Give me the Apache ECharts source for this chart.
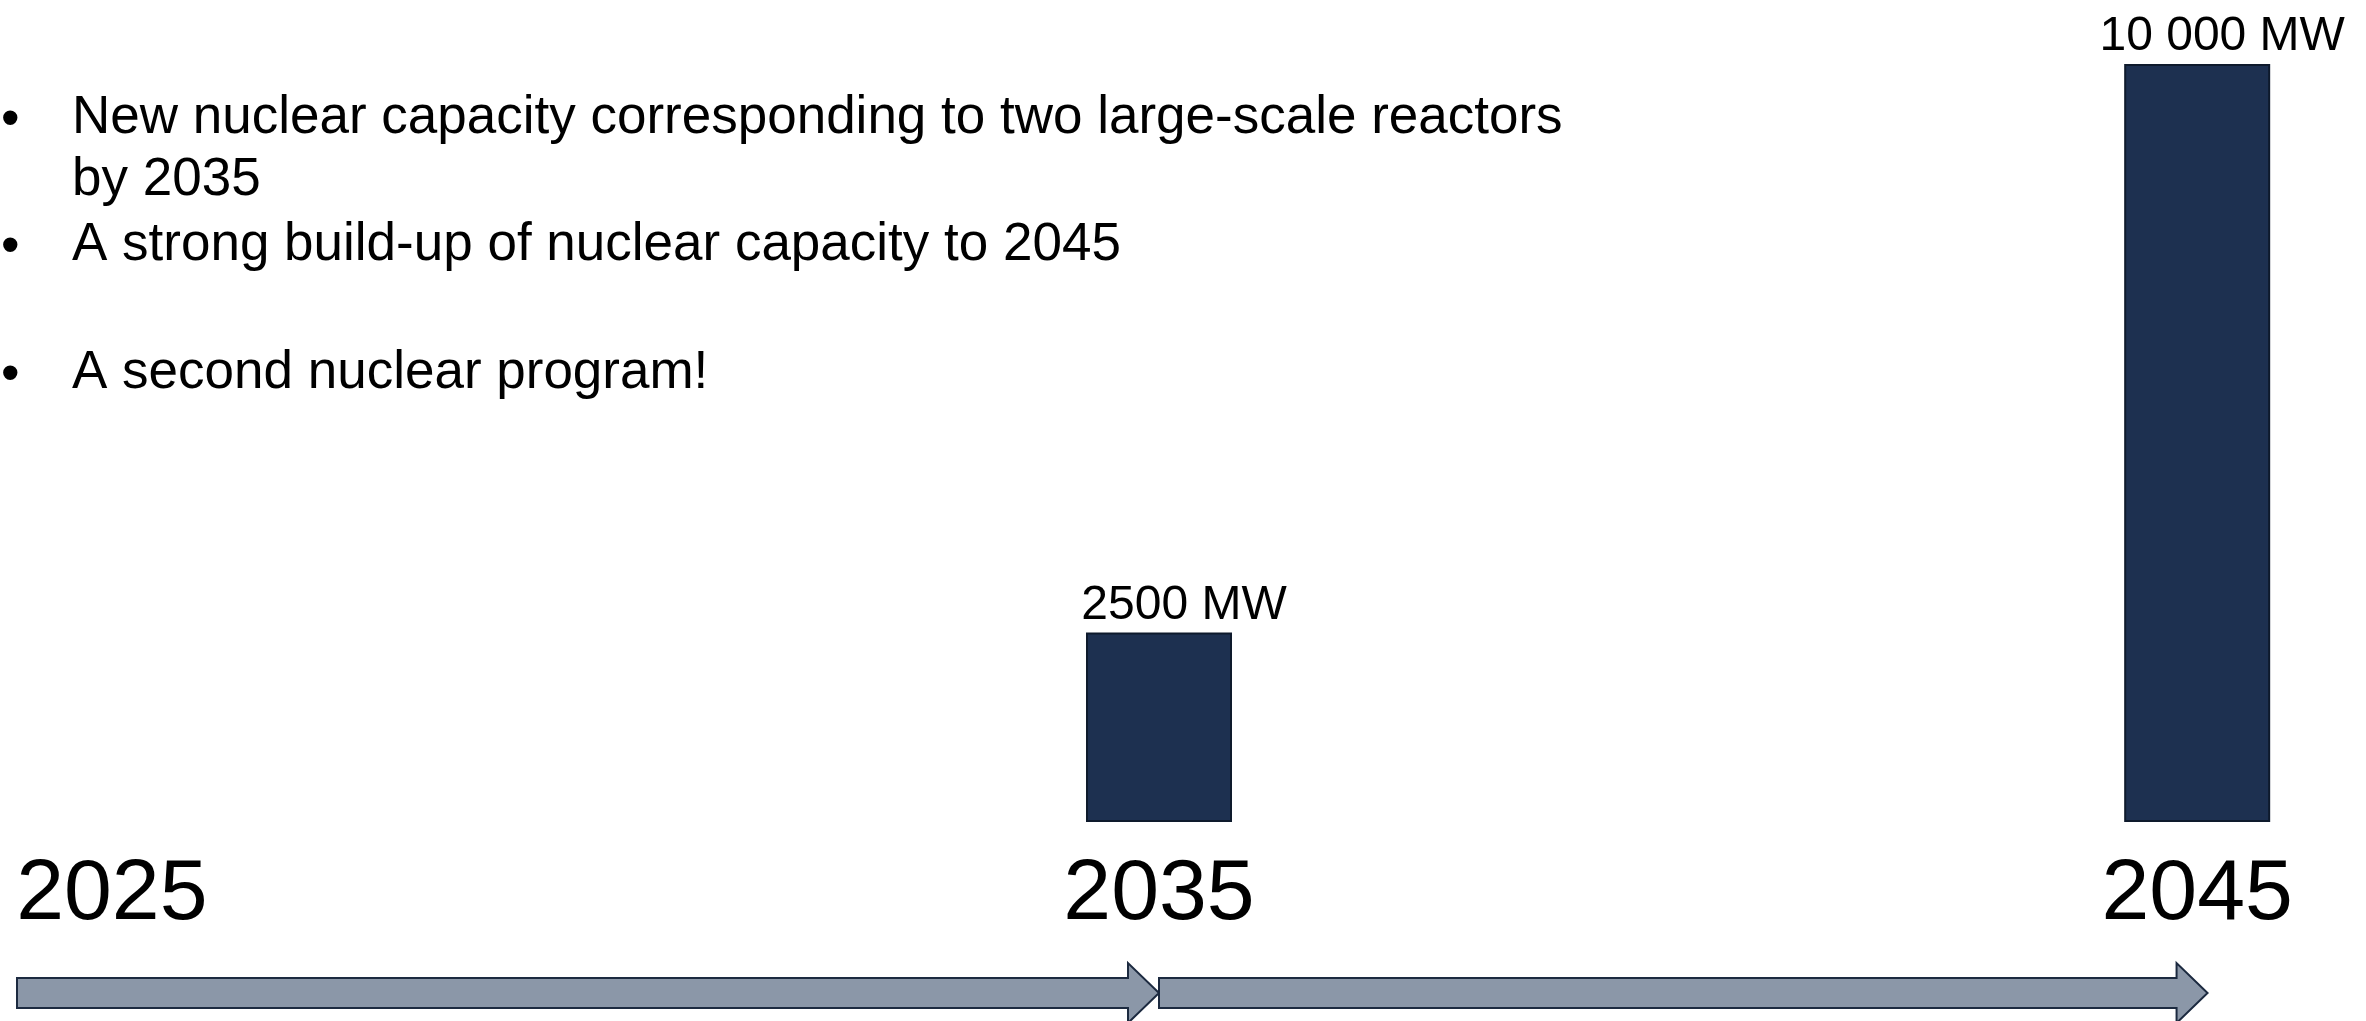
<!DOCTYPE html>
<html>
<head>
<meta charset="utf-8">
<script src="https://cdn.jsdelivr.net/npm/echarts@6/dist/echarts.min.js"></script>
<style>
  html, body { margin: 0; padding: 0; background: #fff; }
  #chart { width: 2366px; height: 1021px; }
</style>
</head>
<body>
<div id="chart"></div>
<script>
// data
const years = [2035, 2045];
const capacity = [2500, 10000];
const capacityLabels = ['2500 MW', '10 000 MW'];
const yearTicks = [2025, 2035, 2045];
const arrowStarts = [2024, 2035];
const arrowEnds = [2035, 2045.1];
const bulletLines = [
  'New nuclear capacity corresponding to two large-scale reactors',
  'by 2035',
  'A strong build-up of nuclear capacity to 2045',
  'A second nuclear program!',
];
const hasBullet = [true, false, true, true];

const FONT = '"Liberation Sans", Arial, sans-serif';
const chart = echarts.init(document.getElementById('chart'));

// bullet text, top-left (top of each text line)
const lineTop = [92, 154, 219, 347];
const graphics = [];
bulletLines.forEach((txt, i) => {
  if (hasBullet[i]) {
    graphics.push({
      type: 'text', left: 1, top: lineTop[i] + 3,
      style: { text: '•', font: '53px ' + FONT, fill: '#000' },
    });
  }
  graphics.push({
    type: 'text', left: 72, top: lineTop[i],
    style: { text: txt, font: '53px ' + FONT, fill: '#000' },
  });
});

chart.setOption({
  animation: false,
  grid: { left: 17, right: 65, top: 64, bottom: 199 },
  xAxis: {
    type: 'value',
    min: 2024,
    max: 2046,
    axisLine: { show: false },
    axisTick: { show: false },
    splitLine: { show: false },
    axisLabel: {
      customValues: yearTicks,
      // first year sits a little left of its tick in the original
      formatter: v => (v === yearTicks[0] ? '{first|' + v + '}' : String(v)),
      fontSize: 86,
      fontFamily: FONT,
      color: '#000',
      margin: 30,
      rich: {
        first: { fontSize: 86, fontFamily: FONT, color: '#000', padding: [0, 18, 0, 0] },
      },
    },
  },
  yAxis: {
    type: 'value',
    min: 0,
    max: 10000,
    show: false,
    splitLine: { show: false },
  },
  graphic: graphics,
  series: [
    {
      type: 'bar',
      barWidth: 146,
      data: years.map((y, i) => [y, capacity[i]]),
      itemStyle: { color: '#1d3050', borderColor: '#0e1a2c', borderWidth: 2 },
      label: {
        show: true,
        position: 'top',
        distance: 3,
        offset: [25, 0],
        fontSize: 48,
        fontFamily: FONT,
        color: '#000',
        formatter: p => capacityLabels[p.dataIndex],
      },
    },
    {
      type: 'custom',
      clip: false,
      data: arrowStarts.map((s, i) => [s, arrowEnds[i], 0]),
      encode: { x: [0, 1], y: 2 },
      renderItem(params, api) {
        const a = api.coord([api.value(0), 0]);
        const b = api.coord([api.value(1), 0]);
        const cy = a[1] + 171;
        const head = 31;
        const bx = b[0] - head;
        return {
          type: 'polygon',
          shape: {
            points: [
              [a[0], cy - 15], [bx, cy - 15], [bx, cy - 30], [b[0], cy],
              [bx, cy + 30], [bx, cy + 15], [a[0], cy + 15],
            ],
          },
          style: { fill: '#8b97a8', stroke: '#1c2a40', lineWidth: 2 },
        };
      },
    },
  ],
});
</script>
</body>
</html>
